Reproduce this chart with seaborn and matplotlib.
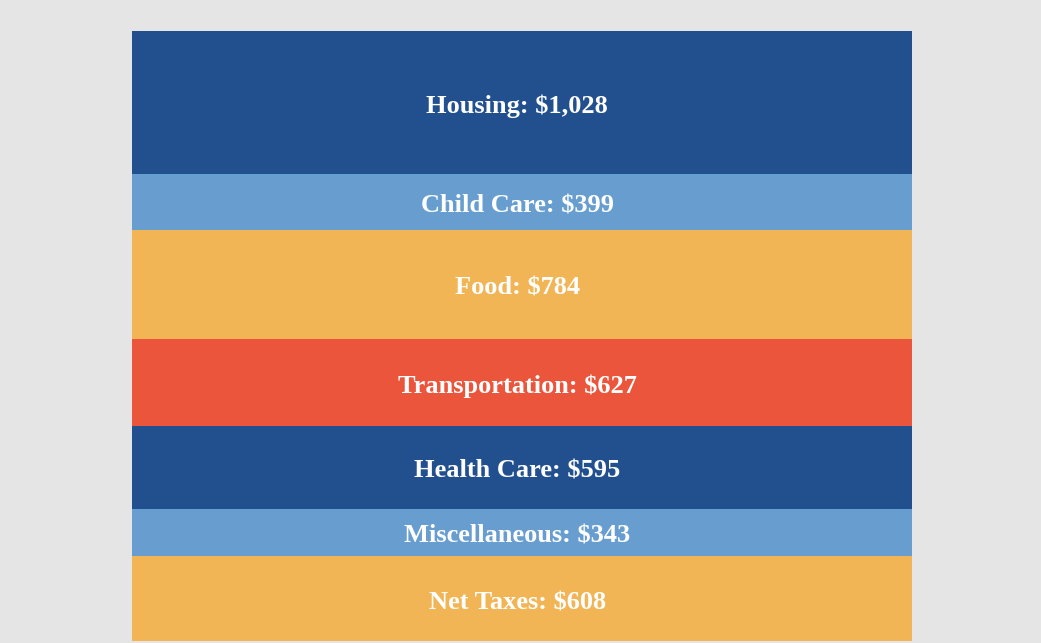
import numpy as np
import pandas as pd
import matplotlib
matplotlib.use("Agg")
import matplotlib.pyplot as plt
import seaborn as sns

# monthly budget items, top of the stack first
categories = ["Housing", "Child Care", "Food", "Transportation",
              "Health Care", "Miscellaneous", "Net Taxes"]
amounts = [1028, 399, 784, 627, 595, 343, 608]
colors = ["#22508f", "#689ecf", "#f2b556", "#eb553b",
          "#22508f", "#689ecf", "#f2b556"]

sns.set_theme(style="white")
plt.rcParams['font.family'] = ['Liberation Serif', 'DejaVu Serif']

df = pd.DataFrame({"category": categories, "amount": amounts, "color": colors})
# stack from the bottom (last item) upward
df = df.iloc[::-1].reset_index(drop=True)
df["top"] = df["amount"].cumsum()
df["bottom"] = df["top"] - df["amount"]

fig = plt.figure(figsize=(10.41, 6.43), dpi=100)
fig.patch.set_facecolor("#e5e5e5")
ax = fig.add_axes([132 / 1041, 2 / 643, 780 / 1041, 610 / 643])

# draw cumulative bars tallest first so each lower segment overwrites
for i in range(len(df) - 1, -1, -1):
    row = df.iloc[i]
    sns.barplot(x=[0], y=[row["top"]], color=row["color"], width=1.0,
                saturation=1, ax=ax, edgecolor="none", linewidth=0)

for _, row in df.iterrows():
    ax.text(-0.006, (row["top"] + row["bottom"]) / 2 - 28,
            f"{row['category']}: ${row['amount']:,}",
            ha="center", va="center", color="white",
            fontsize=19, fontweight="bold")

ax.set_xlim(-0.5, 0.5)
ax.set_ylim(0, df["top"].iloc[-1])
ax.set_axis_off()

fig.savefig("out.png", dpi=100, facecolor=fig.get_facecolor())
